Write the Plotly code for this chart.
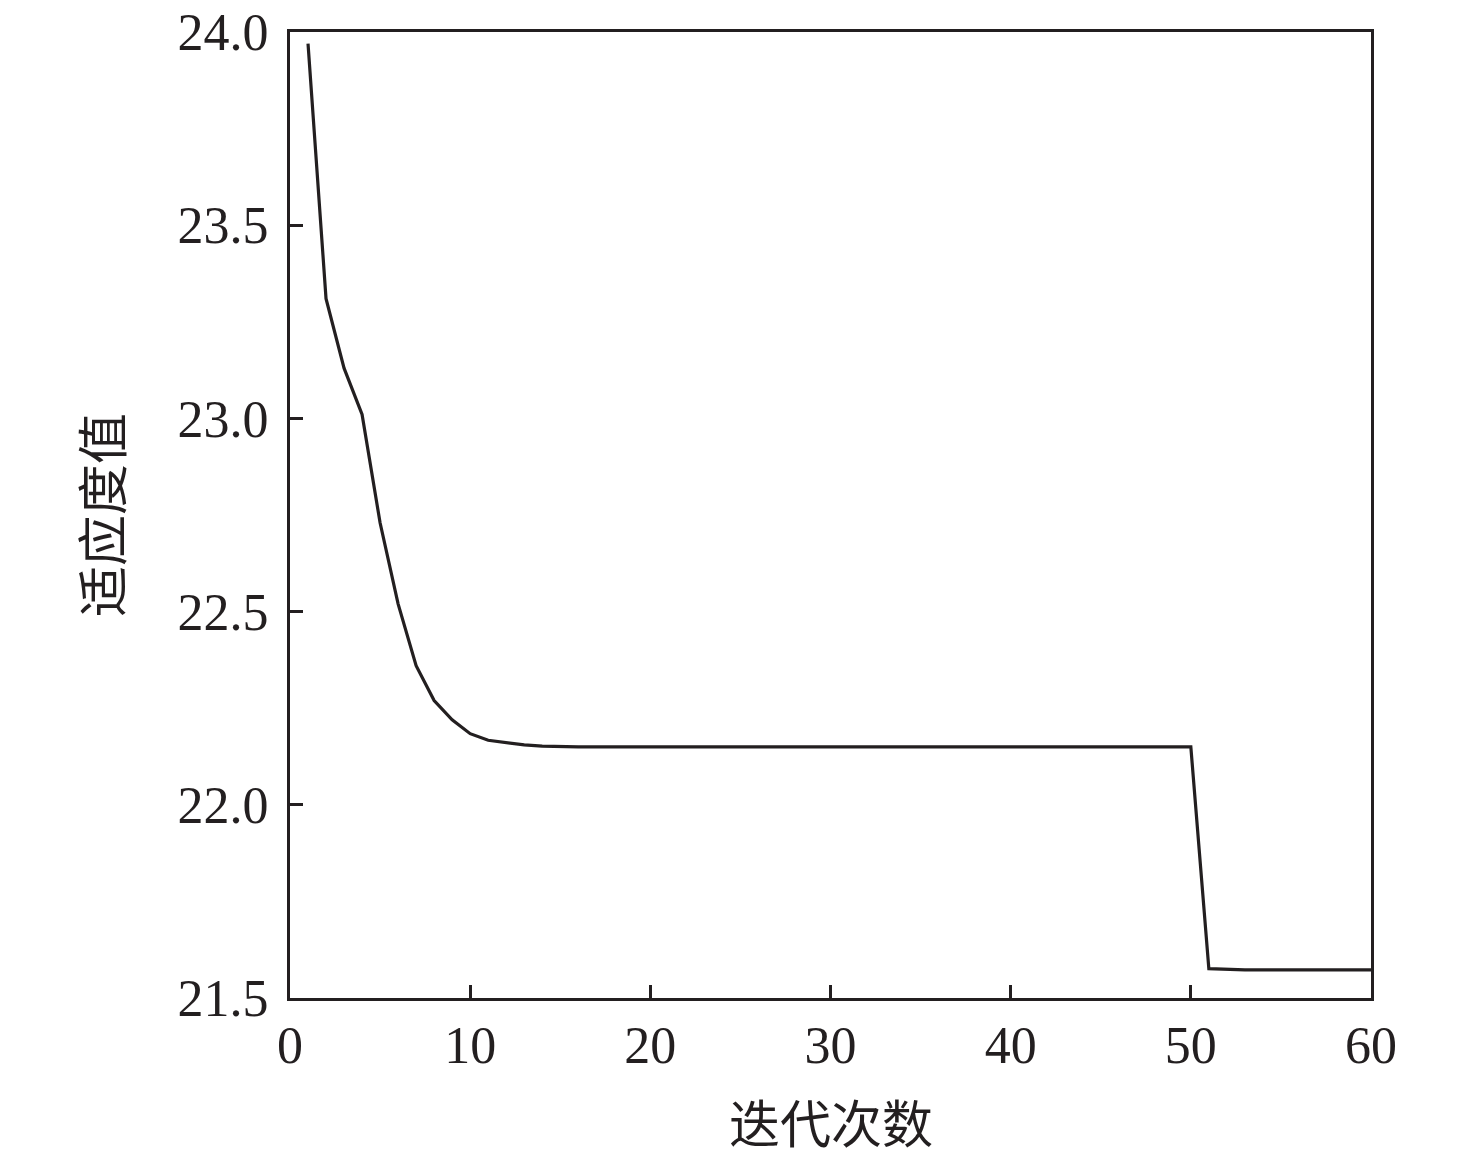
import plotly.graph_objects as go

iterations = list(range(1, 61))
fitness = (
    [23.97, 23.31, 23.13, 23.01, 22.73, 22.52, 22.36, 22.27, 22.22, 22.184,
     22.167, 22.160, 22.155, 22.152]
    + [22.150] * 36
    + [21.576, 21.574]
    + [21.573] * 8
)

x_ticks = [0, 10, 20, 30, 40, 50, 60]
y_ticks = [21.5, 22.0, 22.5, 23.0, 23.5, 24.0]
y_tick_text = [f"{v:.1f}" for v in y_ticks]
x_title = "迭代次数"
y_title = "适应度值"

INK = "#231f20"
SERIF = "Liberation Serif, Times New Roman, serif"
CJK = "Noto Sans CJK SC, sans-serif"

fig = go.Figure(go.Scatter(
    x=iterations, y=fitness, mode="lines",
    line=dict(color=INK, width=3.2),
    showlegend=False,
))

axis_common = dict(
    showline=True, linecolor=INK, linewidth=3, mirror=True,
    ticks="inside", ticklen=13, tickwidth=3, tickcolor=INK,
    showgrid=False, zeroline=False, automargin=False,
    ticklabeloverflow="allow",
    tickfont=dict(family=SERIF, size=52, color=INK),
)

fig.update_xaxes(range=[0, 60], tickvals=x_ticks, ticklabelstandoff=0, **axis_common)
fig.update_yaxes(range=[21.5, 24.0], tickvals=y_ticks, ticktext=y_tick_text,
                 ticklabelstandoff=8, **axis_common)

# axis titles placed as annotations for exact positioning
fig.add_annotation(text=x_title, xref="paper", yref="paper", x=0.5, y=0,
                   yshift=-123, showarrow=False, yanchor="middle",
                   font=dict(family=CJK, size=51, color=INK))
fig.add_annotation(text=y_title, xref="paper", yref="paper", x=0, y=0.5,
                   xshift=-190, showarrow=False, textangle=-90, xanchor="center",
                   font=dict(family=CJK, size=51, color=INK))

fig.update_layout(
    width=1476, height=1156,
    margin=dict(l=282, r=113, t=24, b=166),
    plot_bgcolor="white", paper_bgcolor="white",
)

fig.write_html("out.html")
